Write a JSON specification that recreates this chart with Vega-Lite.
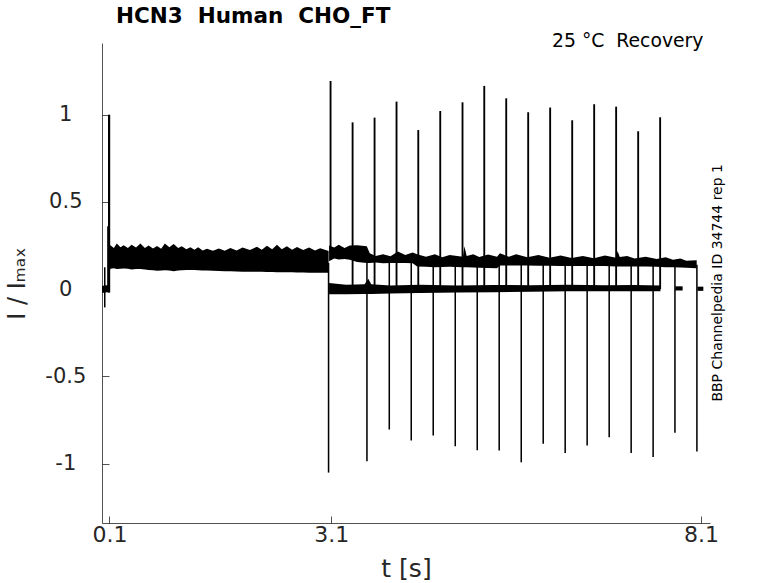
{
  "$schema": "https://vega.github.io/schema/vega-lite/v6.json",
  "background": "white",
  "autosize": "none",
  "width": 608,
  "height": 480,
  "padding": {"left": 102, "top": 43, "right": 68, "bottom": 60},
  "title": {
    "text": "HCN3 \u00a0Human \u00a0CHO_FT",
    "anchor": "start",
    "frame": "group",
    "dx": 14,
    "offset": 4,
    "font": "DejaVu Sans",
    "fontSize": 21.5,
    "fontWeight": "bold",
    "color": "#000000"
  },
  "datasets": {
    "bands": [
      {"seg": "pre", "t": 0.0, "lo": -0.02, "hi": 0.018},
      {"seg": "pre", "t": 0.03, "lo": -0.022, "hi": 0.02},
      {"seg": "pre", "t": 0.06, "lo": -0.018, "hi": 0.022},
      {"seg": "pre", "t": 0.09, "lo": -0.02, "hi": 0.02},
      {"seg": "p1", "t": 0.1, "lo": 0.1, "hi": 0.25},
      {"seg": "p1", "t": 0.114, "lo": 0.117, "hi": 0.252},
      {"seg": "p1", "t": 0.16, "lo": 0.12, "hi": 0.235},
      {"seg": "p1", "t": 0.2, "lo": 0.115, "hi": 0.262},
      {"seg": "p1", "t": 0.25, "lo": 0.117, "hi": 0.24},
      {"seg": "p1", "t": 0.293, "lo": 0.118, "hi": 0.252},
      {"seg": "p1", "t": 0.35, "lo": 0.116, "hi": 0.236},
      {"seg": "p1", "t": 0.4, "lo": 0.113, "hi": 0.255},
      {"seg": "p1", "t": 0.46, "lo": 0.115, "hi": 0.238},
      {"seg": "p1", "t": 0.519, "lo": 0.115, "hi": 0.262},
      {"seg": "p1", "t": 0.58, "lo": 0.112, "hi": 0.236},
      {"seg": "p1", "t": 0.63, "lo": 0.11, "hi": 0.25},
      {"seg": "p1", "t": 0.69, "lo": 0.108, "hi": 0.233},
      {"seg": "p1", "t": 0.744, "lo": 0.105, "hi": 0.247},
      {"seg": "p1", "t": 0.8, "lo": 0.107, "hi": 0.232},
      {"seg": "p1", "t": 0.85, "lo": 0.108, "hi": 0.262},
      {"seg": "p1", "t": 0.91, "lo": 0.106, "hi": 0.24},
      {"seg": "p1", "t": 0.969, "lo": 0.103, "hi": 0.258},
      {"seg": "p1", "t": 1.03, "lo": 0.106, "hi": 0.235},
      {"seg": "p1", "t": 1.08, "lo": 0.108, "hi": 0.245},
      {"seg": "p1", "t": 1.14, "lo": 0.109, "hi": 0.228},
      {"seg": "p1", "t": 1.195, "lo": 0.11, "hi": 0.24},
      {"seg": "p1", "t": 1.25, "lo": 0.109, "hi": 0.225},
      {"seg": "p1", "t": 1.3, "lo": 0.108, "hi": 0.24},
      {"seg": "p1", "t": 1.36, "lo": 0.107, "hi": 0.222},
      {"seg": "p1", "t": 1.42, "lo": 0.106, "hi": 0.232},
      {"seg": "p1", "t": 1.5, "lo": 0.105, "hi": 0.22},
      {"seg": "p1", "t": 1.58, "lo": 0.104, "hi": 0.233},
      {"seg": "p1", "t": 1.66, "lo": 0.103, "hi": 0.22},
      {"seg": "p1", "t": 1.735, "lo": 0.102, "hi": 0.235},
      {"seg": "p1", "t": 1.82, "lo": 0.101, "hi": 0.222},
      {"seg": "p1", "t": 1.9, "lo": 0.1, "hi": 0.238},
      {"seg": "p1", "t": 2.0, "lo": 0.1, "hi": 0.224},
      {"seg": "p1", "t": 2.095, "lo": 0.1, "hi": 0.243},
      {"seg": "p1", "t": 2.16, "lo": 0.099, "hi": 0.226},
      {"seg": "p1", "t": 2.23, "lo": 0.098, "hi": 0.248},
      {"seg": "p1", "t": 2.3, "lo": 0.098, "hi": 0.228},
      {"seg": "p1", "t": 2.366, "lo": 0.097, "hi": 0.254},
      {"seg": "p1", "t": 2.43, "lo": 0.097, "hi": 0.228},
      {"seg": "p1", "t": 2.5, "lo": 0.096, "hi": 0.246},
      {"seg": "p1", "t": 2.57, "lo": 0.096, "hi": 0.225},
      {"seg": "p1", "t": 2.636, "lo": 0.095, "hi": 0.242},
      {"seg": "p1", "t": 2.72, "lo": 0.095, "hi": 0.224},
      {"seg": "p1", "t": 2.8, "lo": 0.094, "hi": 0.238},
      {"seg": "p1", "t": 2.88, "lo": 0.094, "hi": 0.222},
      {"seg": "p1", "t": 2.95, "lo": 0.094, "hi": 0.234},
      {"seg": "p1", "t": 3.064, "lo": 0.094, "hi": 0.218},
      {"seg": "p2", "t": 3.07, "lo": 0.16, "hi": 0.25},
      {"seg": "p2", "t": 3.14, "lo": 0.175, "hi": 0.238},
      {"seg": "p2", "t": 3.2, "lo": 0.17, "hi": 0.255},
      {"seg": "p2", "t": 3.28, "lo": 0.172, "hi": 0.236},
      {"seg": "p2", "t": 3.35, "lo": 0.168, "hi": 0.25},
      {"seg": "p2", "t": 3.45, "lo": 0.155, "hi": 0.252},
      {"seg": "p2", "t": 3.58, "lo": 0.15, "hi": 0.245},
      {"seg": "p2", "t": 3.62, "lo": 0.15, "hi": 0.205},
      {"seg": "p2", "t": 3.7, "lo": 0.152, "hi": 0.19},
      {"seg": "p2", "t": 3.8, "lo": 0.148, "hi": 0.2},
      {"seg": "p2", "t": 3.9, "lo": 0.15, "hi": 0.188},
      {"seg": "p2", "t": 4.0, "lo": 0.15, "hi": 0.215},
      {"seg": "p2", "t": 4.1, "lo": 0.15, "hi": 0.195},
      {"seg": "p2", "t": 4.2, "lo": 0.148, "hi": 0.21},
      {"seg": "p2", "t": 4.26, "lo": 0.13, "hi": 0.2},
      {"seg": "p2", "t": 4.38, "lo": 0.128, "hi": 0.185},
      {"seg": "p2", "t": 4.5, "lo": 0.125, "hi": 0.2},
      {"seg": "p2", "t": 4.6, "lo": 0.127, "hi": 0.183},
      {"seg": "p2", "t": 4.7, "lo": 0.128, "hi": 0.195},
      {"seg": "p2", "t": 4.88, "lo": 0.125, "hi": 0.185},
      {"seg": "p2", "t": 4.9, "lo": 0.125, "hi": 0.245},
      {"seg": "p2", "t": 4.93, "lo": 0.125, "hi": 0.19},
      {"seg": "p2", "t": 5.02, "lo": 0.124, "hi": 0.2},
      {"seg": "p2", "t": 5.1, "lo": 0.122, "hi": 0.184},
      {"seg": "p2", "t": 5.22, "lo": 0.121, "hi": 0.198},
      {"seg": "p2", "t": 5.34, "lo": 0.12, "hi": 0.185},
      {"seg": "p2", "t": 5.38, "lo": 0.135, "hi": 0.205},
      {"seg": "p2", "t": 5.5, "lo": 0.136, "hi": 0.186},
      {"seg": "p2", "t": 5.6, "lo": 0.135, "hi": 0.2},
      {"seg": "p2", "t": 5.75, "lo": 0.135, "hi": 0.182},
      {"seg": "p2", "t": 5.9, "lo": 0.134, "hi": 0.195},
      {"seg": "p2", "t": 6.05, "lo": 0.134, "hi": 0.18},
      {"seg": "p2", "t": 6.2, "lo": 0.133, "hi": 0.192},
      {"seg": "p2", "t": 6.35, "lo": 0.133, "hi": 0.178},
      {"seg": "p2", "t": 6.5, "lo": 0.132, "hi": 0.19},
      {"seg": "p2", "t": 6.65, "lo": 0.132, "hi": 0.177},
      {"seg": "p2", "t": 6.8, "lo": 0.132, "hi": 0.192},
      {"seg": "p2", "t": 6.95, "lo": 0.13, "hi": 0.18},
      {"seg": "p2", "t": 6.97, "lo": 0.13, "hi": 0.218},
      {"seg": "p2", "t": 7.0, "lo": 0.13, "hi": 0.184},
      {"seg": "p2", "t": 7.1, "lo": 0.13, "hi": 0.19},
      {"seg": "p2", "t": 7.2, "lo": 0.13, "hi": 0.175},
      {"seg": "p2", "t": 7.35, "lo": 0.129, "hi": 0.186},
      {"seg": "p2", "t": 7.5, "lo": 0.128, "hi": 0.172},
      {"seg": "p2", "t": 7.62, "lo": 0.126, "hi": 0.182},
      {"seg": "p2", "t": 7.72, "lo": 0.125, "hi": 0.168},
      {"seg": "p2", "t": 7.82, "lo": 0.124, "hi": 0.176},
      {"seg": "p2", "t": 7.9, "lo": 0.122, "hi": 0.162},
      {"seg": "p2", "t": 8.04, "lo": 0.12, "hi": 0.165},
      {"seg": "hold", "t": 3.07, "lo": -0.03, "hi": 0.035},
      {"seg": "hold", "t": 3.3, "lo": -0.03, "hi": 0.025},
      {"seg": "hold", "t": 3.55, "lo": -0.028, "hi": 0.028},
      {"seg": "hold", "t": 3.6, "lo": -0.028, "hi": 0.06},
      {"seg": "hold", "t": 3.64, "lo": -0.028, "hi": 0.028},
      {"seg": "hold", "t": 3.9, "lo": -0.025, "hi": 0.02},
      {"seg": "hold", "t": 4.3, "lo": -0.022, "hi": 0.025},
      {"seg": "hold", "t": 4.8, "lo": -0.02, "hi": 0.02},
      {"seg": "hold", "t": 5.3, "lo": -0.018, "hi": 0.024},
      {"seg": "hold", "t": 5.8, "lo": -0.015, "hi": 0.022},
      {"seg": "hold", "t": 6.3, "lo": -0.013, "hi": 0.025},
      {"seg": "hold", "t": 6.8, "lo": -0.012, "hi": 0.022},
      {"seg": "hold", "t": 7.2, "lo": -0.012, "hi": 0.024},
      {"seg": "hold", "t": 7.55, "lo": -0.012, "hi": 0.02},
      {"seg": "tail1", "t": 7.75, "lo": -0.008, "hi": 0.016},
      {"seg": "tail1", "t": 7.85, "lo": -0.008, "hi": 0.016},
      {"seg": "tail2", "t": 8.05, "lo": -0.01, "hi": 0.014},
      {"seg": "tail2", "t": 8.13, "lo": -0.01, "hi": 0.014}
    ],
    "spikes": [
      {"kind": "onset", "t": 0.096, "y1": -0.02, "y2": 1.0},
      {"kind": "minor", "t": 0.078, "y1": 0.0, "y2": 0.36},
      {"kind": "down", "t": 0.037, "y1": -0.105, "y2": 0.125},
      {"kind": "up", "t": 3.09, "y1": 0.2, "y2": 1.193},
      {"kind": "down", "t": 3.063, "y1": 0.15, "y2": -1.052},
      {"kind": "up", "t": 3.388, "y1": 0.0, "y2": 0.956},
      {"kind": "up", "t": 3.685, "y1": 0.0, "y2": 0.983},
      {"kind": "up", "t": 3.982, "y1": 0.0, "y2": 1.075},
      {"kind": "up", "t": 4.276, "y1": 0.0, "y2": 0.912},
      {"kind": "up", "t": 4.573, "y1": 0.0, "y2": 1.021},
      {"kind": "up", "t": 4.874, "y1": 0.0, "y2": 1.071},
      {"kind": "up", "t": 5.168, "y1": 0.0, "y2": 1.165},
      {"kind": "up", "t": 5.465, "y1": 0.0, "y2": 1.094},
      {"kind": "up", "t": 5.762, "y1": 0.0, "y2": 1.014},
      {"kind": "up", "t": 6.059, "y1": 0.0, "y2": 1.041},
      {"kind": "up", "t": 6.357, "y1": 0.0, "y2": 0.968},
      {"kind": "up", "t": 6.654, "y1": 0.0, "y2": 1.06},
      {"kind": "up", "t": 6.951, "y1": 0.0, "y2": 1.046},
      {"kind": "up", "t": 7.249, "y1": 0.0, "y2": 0.905},
      {"kind": "up", "t": 7.546, "y1": 0.0, "y2": 0.985},
      {"kind": "down", "t": 3.582, "y1": 0.16, "y2": -0.987},
      {"kind": "down", "t": 3.884, "y1": 0.16, "y2": -0.805},
      {"kind": "down", "t": 4.181, "y1": 0.16, "y2": -0.868},
      {"kind": "down", "t": 4.478, "y1": 0.16, "y2": -0.839},
      {"kind": "down", "t": 4.776, "y1": 0.16, "y2": -0.901},
      {"kind": "down", "t": 5.073, "y1": 0.16, "y2": -0.924},
      {"kind": "down", "t": 5.37, "y1": 0.16, "y2": -0.925},
      {"kind": "down", "t": 5.668, "y1": 0.16, "y2": -0.993},
      {"kind": "down", "t": 5.965, "y1": 0.16, "y2": -0.887},
      {"kind": "down", "t": 6.262, "y1": 0.16, "y2": -0.939},
      {"kind": "down", "t": 6.559, "y1": 0.16, "y2": -0.897},
      {"kind": "down", "t": 6.857, "y1": 0.16, "y2": -0.849},
      {"kind": "down", "t": 7.154, "y1": 0.16, "y2": -0.939},
      {"kind": "down", "t": 7.451, "y1": 0.16, "y2": -0.962},
      {"kind": "down", "t": 7.746, "y1": 0.15, "y2": -0.824},
      {"kind": "down", "t": 8.043, "y1": 0.14, "y2": -0.931}
    ],
    "notes": [
      {"label": "25 °C \u00a0Recovery", "t": 8.131, "v": 1.39}
    ],
    "side": [
      {"label": "BBP Channelpedia ID 34744 rep 1", "t": 8.328, "v": 0.036}
    ]
  },
  "layer": [
    {
      "data": {"name": "bands"},
      "mark": {"type": "area", "color": "#000000", "interpolate": "linear"},
      "encoding": {
        "x": {
          "field": "t",
          "type": "quantitative",
          "scale": {"domain": [0, 8.22], "nice": false, "zero": false},
          "axis": {
            "title": "t [s]",
            "values": [0.1, 3.1, 8.1],
            "format": ".1f",
            "labelFontSize": 22,
            "titleFontSize": 25,
            "tickSize": -7,
            "labelPadding": 8.4,
            "titlePadding": 11,
            "labelFlush": false
          }
        },
        "y": {
          "field": "lo",
          "type": "quantitative",
          "scale": {"domain": [-1.341, 1.411], "nice": false, "zero": false},
          "axis": {
            "title": "I / Iₘₐₓ",
            "values": [-1, -0.5, 0, 0.5, 1],
            "labelExpr": "'' + datum.value",
            "labelFontSize": 21,
            "labelAlign": "center",
            "labelBaseline": "middle",
            "titleFontSize": 24,
            "tickSize": -7,
            "labelPadding": 43.7,
            "titlePadding": 15
          }
        },
        "y2": {"field": "hi"},
        "detail": {"field": "seg"}
      }
    },
    {
      "data": {"name": "spikes"},
      "mark": {"type": "rule", "color": "#000000"},
      "encoding": {
        "x": {"field": "t", "type": "quantitative"},
        "y": {"field": "y1", "type": "quantitative"},
        "y2": {"field": "y2"},
        "strokeWidth": {
          "field": "kind",
          "type": "nominal",
          "scale": {"domain": ["onset", "up", "down", "minor"], "range": [2.2, 1.2, 1.2, 0.8]},
          "legend": null
        }
      }
    },
    {
      "data": {"name": "notes"},
      "mark": {"type": "text", "align": "right", "baseline": "alphabetic", "font": "DejaVu Sans", "fontSize": 18.8, "color": "#000000"},
      "encoding": {
        "x": {"field": "t", "type": "quantitative"},
        "y": {"field": "v", "type": "quantitative"},
        "text": {"field": "label"}
      }
    },
    {
      "data": {"name": "side"},
      "mark": {"type": "text", "align": "center", "baseline": "middle", "angle": 270, "font": "DejaVu Sans", "fontSize": 14, "color": "#000000"},
      "encoding": {
        "x": {"field": "t", "type": "quantitative"},
        "y": {"field": "v", "type": "quantitative"},
        "text": {"field": "label"}
      }
    }
  ],
  "config": {
    "view": {"stroke": null},
    "font": "DejaVu Sans",
    "axis": {
      "grid": false,
      "domainColor": "#262626",
      "domainWidth": 0.8,
      "tickColor": "#262626",
      "tickWidth": 0.8,
      "labelColor": "#262626",
      "titleColor": "#262626",
      "labelFont": "DejaVu Sans",
      "titleFont": "DejaVu Sans",
      "titleFontWeight": "normal"
    }
  }
}
